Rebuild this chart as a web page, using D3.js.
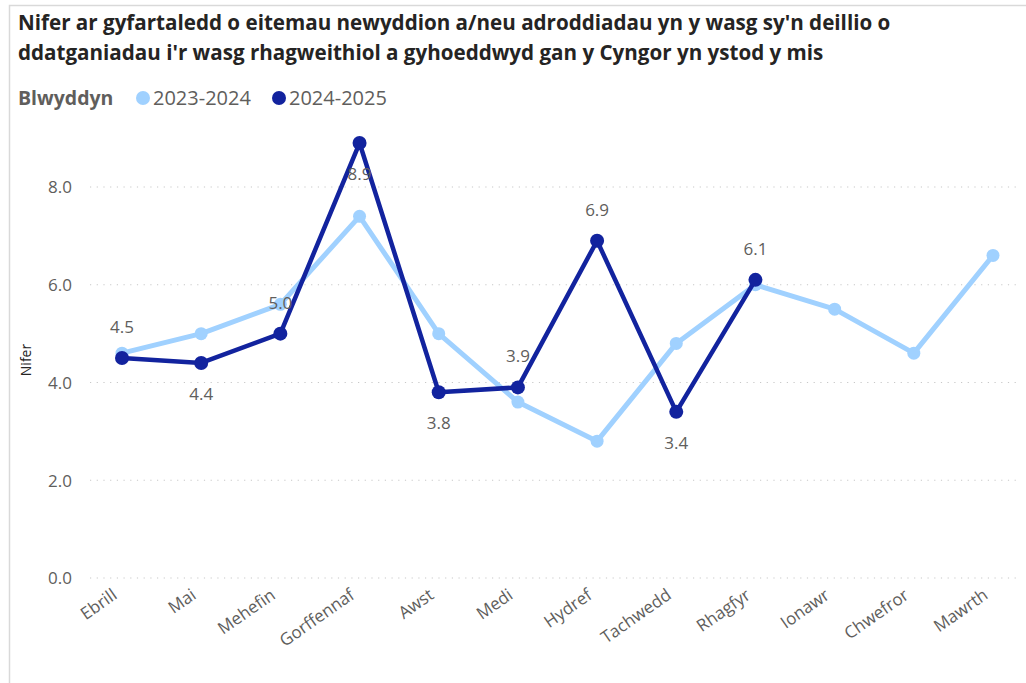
<!DOCTYPE html>
<html><head><meta charset="utf-8">
<script src="https://cdn.jsdelivr.net/npm/d3@7"></script>
<style>
body{margin:0;background:#fff;}
svg{display:block;font-family:"Open Sans","Noto Sans",sans-serif;}
</style></head>
<body><svg id="c" width="1026" height="683"></svg>
<script>
const months = ["Ebrill","Mai","Mehefin","Gorffennaf","Awst","Medi","Hydref","Tachwedd","Rhagfyr","Ionawr","Chwefror","Mawrth"];
const series2324 = [4.6,5.0,5.6,7.4,5.0,3.6,2.8,4.8,6.0,5.5,4.6,6.6];
const series2425 = [4.5,4.4,5.0,8.9,3.8,3.9,6.9,3.4,6.1];
const labelSide2425 = ["above","below","above","below","below","above","above","below","above"];
const yTicks = [0,2,4,6,8];
const seriesNames = ["2023-2024","2024-2025"];
const titleLines = ["Nifer ar gyfartaledd o eitemau newyddion a/neu adroddiadau yn y wasg sy'n deillio o","ddatganiadau i'r wasg rhagweithiol a gyhoeddwyd gan y Cyngor yn ystod y mis"];

const svg = d3.select("#c");
const light = "#A0D1FF", dark = "#12239E", grey = "#605E5C";

// card border
svg.append("path").attr("d","M9.5,683 L9.5,5.5 L1026,5.5").attr("fill","none").attr("stroke","#d9d9d9").attr("stroke-width",1.5);

// title
svg.append("g").selectAll("text").data(titleLines).join("text")
  .attr("x",18).attr("y",(d,i)=>30+i*30)
  .attr("font-size",20.6).attr("font-weight",700).attr("fill","#252423").text(d=>d);

// legend
const lg = svg.append("g");
lg.append("text").attr("x",18).attr("y",105).attr("font-size",19.5).attr("font-weight",700).attr("fill",grey).text("Blwyddyn");
const legX = [143,279];
[light,dark].forEach((c,i)=>{
  lg.append("circle").attr("cx",legX[i]).attr("cy",98).attr("r",7).attr("fill",c);
  lg.append("text").attr("x",legX[i]+10).attr("y",105).attr("font-size",20).attr("fill",grey).text(seriesNames[i]);
});

const x = d3.scalePoint().domain(months).range([122,993]);
const y = d3.scaleLinear().domain([0,8]).range([578,187]);

// gridlines
svg.append("g").selectAll("line").data(yTicks).join("line")
  .attr("x1",90).attr("x2",1018).attr("y1",d=>y(d)).attr("y2",d=>y(d))
  .attr("stroke","#c8c8c8").attr("stroke-width",1.2).attr("stroke-dasharray","1.2,5.5");

// y axis
const ya = svg.append("g").attr("transform","translate(75,0)")
  .call(d3.axisLeft(y).tickValues(yTicks).tickFormat(d3.format(".1f")).tickSize(0));
ya.select(".domain").remove();
ya.selectAll("text").attr("font-size",17).attr("fill",grey).attr("font-family","'Open Sans',sans-serif").attr("dy","0.35em");

svg.append("text").attr("transform","translate(31,360) rotate(-90)").attr("text-anchor","middle")
  .attr("font-size",14).attr("fill","#252423").text("Nifer");

// x axis
const xa = svg.append("g").attr("transform","translate(0,588)")
  .call(d3.axisBottom(x).tickSize(0));
xa.select(".domain").remove();
xa.selectAll("text").attr("font-size",17).attr("fill",grey).attr("font-family","'Open Sans',sans-serif")
  .attr("text-anchor","end").attr("dy","0.3em").attr("transform","translate(-9,3) rotate(-35)");

// lines
const line = d3.line().x((d,i)=>x(months[i])).y(d=>y(d));
function drawSeries(vals,color,w,r){
  svg.append("path").datum(vals).attr("d",line).attr("fill","none").attr("stroke",color)
    .attr("stroke-width",w).attr("stroke-linejoin","round");
  svg.append("g").selectAll("circle").data(vals).join("circle")
    .attr("cx",(d,i)=>x(months[i])).attr("cy",d=>y(d)).attr("r",r).attr("fill",color);
}
drawSeries(series2324,light,5,6.5);
drawSeries(series2425,dark,4.5,7);

// data labels
svg.append("g").selectAll("text").data(series2425).join("text")
  .attr("x",(d,i)=>x(months[i])).attr("y",(d,i)=>y(d)+(labelSide2425[i]==="above"?-31:31))
  .attr("dy","0.35em").attr("text-anchor","middle").attr("font-size",17).attr("fill",grey)
  .text(d=>d3.format(".1f")(d));
</script></body></html>
